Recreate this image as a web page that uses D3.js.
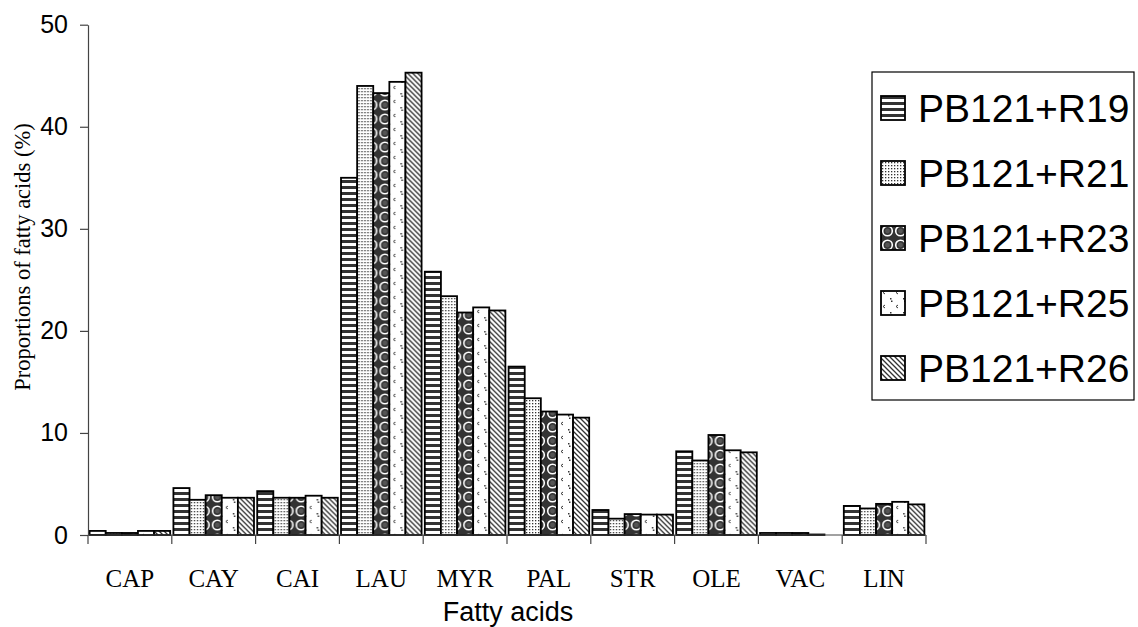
<!DOCTYPE html>
<html>
<head>
<meta charset="utf-8">
<script src="https://cdn.jsdelivr.net/npm/d3@7"></script>
<style>
  html, body { margin: 0; padding: 0; background: #fff; }
  svg { display: block; }
</style>
</head>
<body>
<svg id="chart" width="1138" height="627"></svg>
<script>
const categories = ["CAP","CAY","CAI","LAU","MYR","PAL","STR","OLE","VAC","LIN"];
const seriesNames = ["PB121+R19","PB121+R21","PB121+R23","PB121+R25","PB121+R26"];
const r19 = [0.4, 4.6, 4.3, 35.0, 25.8, 16.5, 2.45, 8.2, 0.2, 2.85];
const r21 = [0.2, 3.45, 3.65, 44.0, 23.4, 13.4, 1.6, 7.3, 0.2, 2.6];
const r23 = [0.2, 3.9, 3.65, 43.3, 21.8, 12.1, 2.05, 9.8, 0.2, 3.05];
const r25 = [0.4, 3.65, 3.85, 44.4, 22.3, 11.8, 2.0, 8.3, 0.05, 3.25];
const r26 = [0.4, 3.65, 3.65, 45.3, 22.0, 11.5, 2.0, 8.1, 0.0, 3.0];
const yTicks = [0, 10, 20, 30, 40, 50];
const seriesValues = [r19, r21, r23, r25, r26];

const svg = d3.select("#chart");
const defs = svg.append("defs");

// Patterns
const p0 = defs.append("pattern").attr("id","pat0").attr("patternUnits","userSpaceOnUse").attr("width",8).attr("height",6);
p0.append("rect").attr("width",8).attr("height",6).attr("fill","#fff");
p0.append("rect").attr("y",0).attr("width",8).attr("height",3).attr("fill","#333");

const p1 = defs.append("pattern").attr("id","pat1").attr("patternUnits","userSpaceOnUse").attr("width",3).attr("height",3);
p1.append("rect").attr("width",3).attr("height",3).attr("fill","#fff");
p1.append("rect").attr("x",1).attr("y",1).attr("width",1.3).attr("height",1.3).attr("fill","#333");

const p2 = defs.append("pattern").attr("id","pat2").attr("patternUnits","userSpaceOnUse").attr("width",13).attr("height",14);
p2.append("rect").attr("width",13).attr("height",14).attr("fill","#333");
p2.append("circle").attr("cx",6.5).attr("cy",7).attr("r",4.8).attr("fill","none").attr("stroke","#fff").attr("stroke-width",1.6);
p2.append("circle").attr("cx",6.5).attr("cy",7).attr("r",2.4).attr("fill","#555");

const p3 = defs.append("pattern").attr("id","pat3").attr("patternUnits","userSpaceOnUse").attr("width",13).attr("height",14);
p3.append("rect").attr("width",13).attr("height",14).attr("fill","#fff");
p3.append("path").attr("d","M4 2 L2 3.5 L4 5").attr("fill","none").attr("stroke","#333").attr("stroke-width",1);
p3.append("rect").attr("x",9).attr("y",9).attr("width",1.5).attr("height",1.5).attr("fill","#333");
p3.append("rect").attr("x",10).attr("y",11.5).attr("width",1.5).attr("height",1.5).attr("fill","#333");

const p4 = defs.append("pattern").attr("id","pat4").attr("patternUnits","userSpaceOnUse").attr("width",5).attr("height",5);
p4.append("rect").attr("width",5).attr("height",5).attr("fill","#fff");
p4.append("path").attr("d","M-1 -1 L6 6 M-1 4 L1 6 M4 -1 L6 1").attr("stroke","#333").attr("stroke-width",1.3);

const fills = ["url(#pat0)","url(#pat1)","url(#pat2)","url(#pat3)","url(#pat4)"];

// Scales
const x0 = d3.scaleBand().domain(categories).range([88, 926]).paddingInner(0).paddingOuter(0);
const x1 = d3.scaleBand().domain(seriesNames).range([0, x0.bandwidth()]).paddingOuter(0.1).paddingInner(0);
const y = d3.scaleLinear().domain([0, 50]).range([535, 24.7]);

// Bars
const groups = svg.append("g").selectAll("g").data(categories).join("g")
  .attr("transform", d => `translate(${x0(d)},0)`);
groups.selectAll("rect")
  .data((c, ci) => seriesNames.map((s, si) => ({s, si, v: seriesValues[si][ci]})))
  .join("rect")
  .attr("x", d => x1(d.s))
  .attr("y", d => y(d.v))
  .attr("width", x1.bandwidth())
  .attr("height", d => y(0) - y(d.v))
  .attr("fill", d => fills[d.si])
  .attr("stroke", "#000")
  .attr("stroke-width", d => d.v > 0 ? 1.8 : 0);

// Y axis
const yAxis = d3.axisLeft(y).tickValues(yTicks).tickSize(8).tickPadding(12).tickSizeOuter(0);
const gy = svg.append("g").attr("transform","translate(88,0)").call(yAxis);
gy.select(".domain").attr("stroke","#444").attr("stroke-width",1.2);
gy.selectAll(".tick line").attr("stroke","#444").attr("stroke-width",1.2);
gy.selectAll(".tick text").attr("font-family","Liberation Sans, Arial, sans-serif").attr("font-size",25).attr("fill","#000");

// X axis
const boundaries = categories.map(c => x0(c)).concat([926]);
const gx = svg.append("g");
gx.append("line").attr("x1",88).attr("x2",926).attr("y1",y(0)).attr("y2",y(0)).attr("stroke","#444").attr("stroke-width",1.2);
gx.selectAll("line.tk").data(boundaries).join("line").attr("class","tk")
  .attr("x1", d => d).attr("x2", d => d).attr("y1", y(0)).attr("y2", y(0) + 9)
  .attr("stroke","#444").attr("stroke-width",1.2);
gx.selectAll("text").data(categories).join("text")
  .attr("x", d => x0(d) + x0.bandwidth()/2)
  .attr("y", 587)
  .attr("text-anchor","middle")
  .attr("font-family","Liberation Serif, Times New Roman, serif")
  .attr("font-size",25)
  .text(d => d);

// Axis titles
svg.append("text").attr("x",508).attr("y",621).attr("text-anchor","middle")
  .attr("font-family","Liberation Sans, Arial, sans-serif").attr("font-size",27)
  .text("Fatty acids");
svg.append("text").attr("transform","translate(30,257) rotate(-90)").attr("text-anchor","middle")
  .attr("font-family","Liberation Serif, Times New Roman, serif").attr("font-size",22.5)
  .text("Proportions of fatty acids (%)");

// Legend
const lg = svg.append("g");
lg.append("rect").attr("x",872).attr("y",72).attr("width",262).attr("height",328)
  .attr("fill","#fff").attr("stroke","#000").attr("stroke-width",1.2);
const items = lg.selectAll("g.item").data(seriesNames).join("g").attr("class","item")
  .attr("transform", (d,i) => `translate(881,${108 + i*65})`);
items.append("rect").attr("x",0).attr("y",-12).attr("width",24).attr("height",24)
  .attr("fill", (d,i) => fills[i]).attr("stroke","#000").attr("stroke-width",1.8);
items.append("text").attr("x",37).attr("y",14)
  .attr("font-family","Liberation Sans, Arial, sans-serif").attr("font-size",39)
  .text(d => d);
</script>
</body>
</html>
